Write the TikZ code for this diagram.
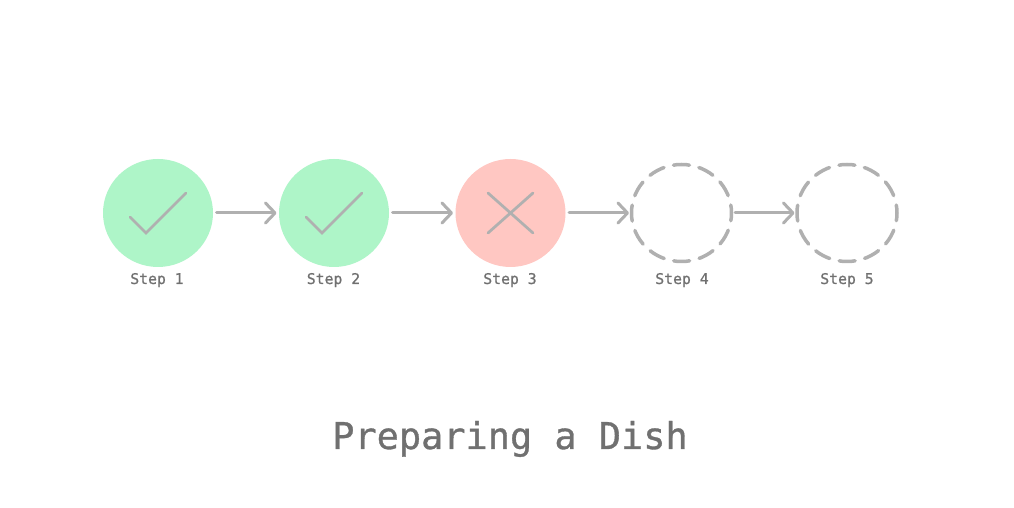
\documentclass[tikz,border=0pt]{standalone}
\usepackage{fontspec}
\setmonofont[FakeBold=0.9]{DejaVu Sans Mono}
\usepackage{xcolor}
\usetikzlibrary{arrows.meta,calc,shapes.geometric}
\definecolor{donegreen}{HTML}{AEF5C8}
\definecolor{failred}{HTML}{FFC7C2}
\definecolor{linegray}{HTML}{B0B0B0}
\definecolor{textgray}{HTML}{707070}
\tikzset{
  fullcircle/.style={ellipse, minimum width=2.2cm, minimum height=2.16cm, inner sep=0pt, outer sep=0pt},
  opencircle/.style={ellipse, minimum width=2cm, minimum height=1.94cm, inner sep=0pt, outer sep=0pt, draw=linegray, line width=0.07cm, line cap=round, dash pattern=on 0.32cm off 0.196cm, dash phase=0.16cm},
  steplabel/.style={anchor=base, text=textgray, font=\ttfamily\fontsize{8.4pt}{10pt}\selectfont},
  flow/.style={draw=linegray, line width=0.06cm, line cap=round, -{Straight Barb[length=0.19cm, width=0.4cm, round]}, shorten <=0.07cm, shorten >=0.05cm},
  mark line/.style={draw=linegray, line width=0.055cm, line cap=round, line join=miter}
}

\begin{document}
\begin{tikzpicture}

\useasboundingbox (0,0) rectangle (20.28,10.16);
\fill[white] (0,0) rectangle (20.28,10.16);

\node[fullcircle, fill=donegreen] (step1) at (3.16,5.9) {};
\node[fullcircle, fill=donegreen] (step2) at (6.68,5.9) {};
\node[fullcircle, fill=failred] (step3) at (10.21,5.9) {};
\node[opencircle] (step4) at (13.63,5.9) {};
\node[opencircle] (step5) at (16.94,5.9) {};

\foreach \s in {step1,step2}
  \draw[mark line] ($(\s)+(-0.56,-0.08)$) -- ($(\s)+(-0.24,-0.4)$) -- ($(\s)+(0.56,0.4)$);
\draw[mark line] ($(step3)+(-0.45,0.4)$) -- ($(step3)+(0.45,-0.4)$);
\draw[mark line] ($(step3)+(-0.45,-0.4)$) -- ($(step3)+(0.45,0.4)$);

\draw[flow] (step1) -- (step2);
\draw[flow] (step2) -- (step3);
\draw[flow] (step3) -- (step4);
\draw[flow] (step4) -- (step5);

\node[steplabel] (label1) at (3.14,4.48) {Step 1};
\node[steplabel] (label2) at (6.67,4.48) {Step 2};
\node[steplabel] (label3) at (10.2,4.48) {Step 3};
\node[steplabel] (label4) at (13.64,4.48) {Step 4};
\node[steplabel] (label5) at (16.94,4.48) {Step 5};

\node[anchor=base, text=textgray, font=\ttfamily\fontsize{21pt}{25pt}\selectfont] (title) at (10.2,1.18) {Preparing a Dish};

\end{tikzpicture}
\end{document}
